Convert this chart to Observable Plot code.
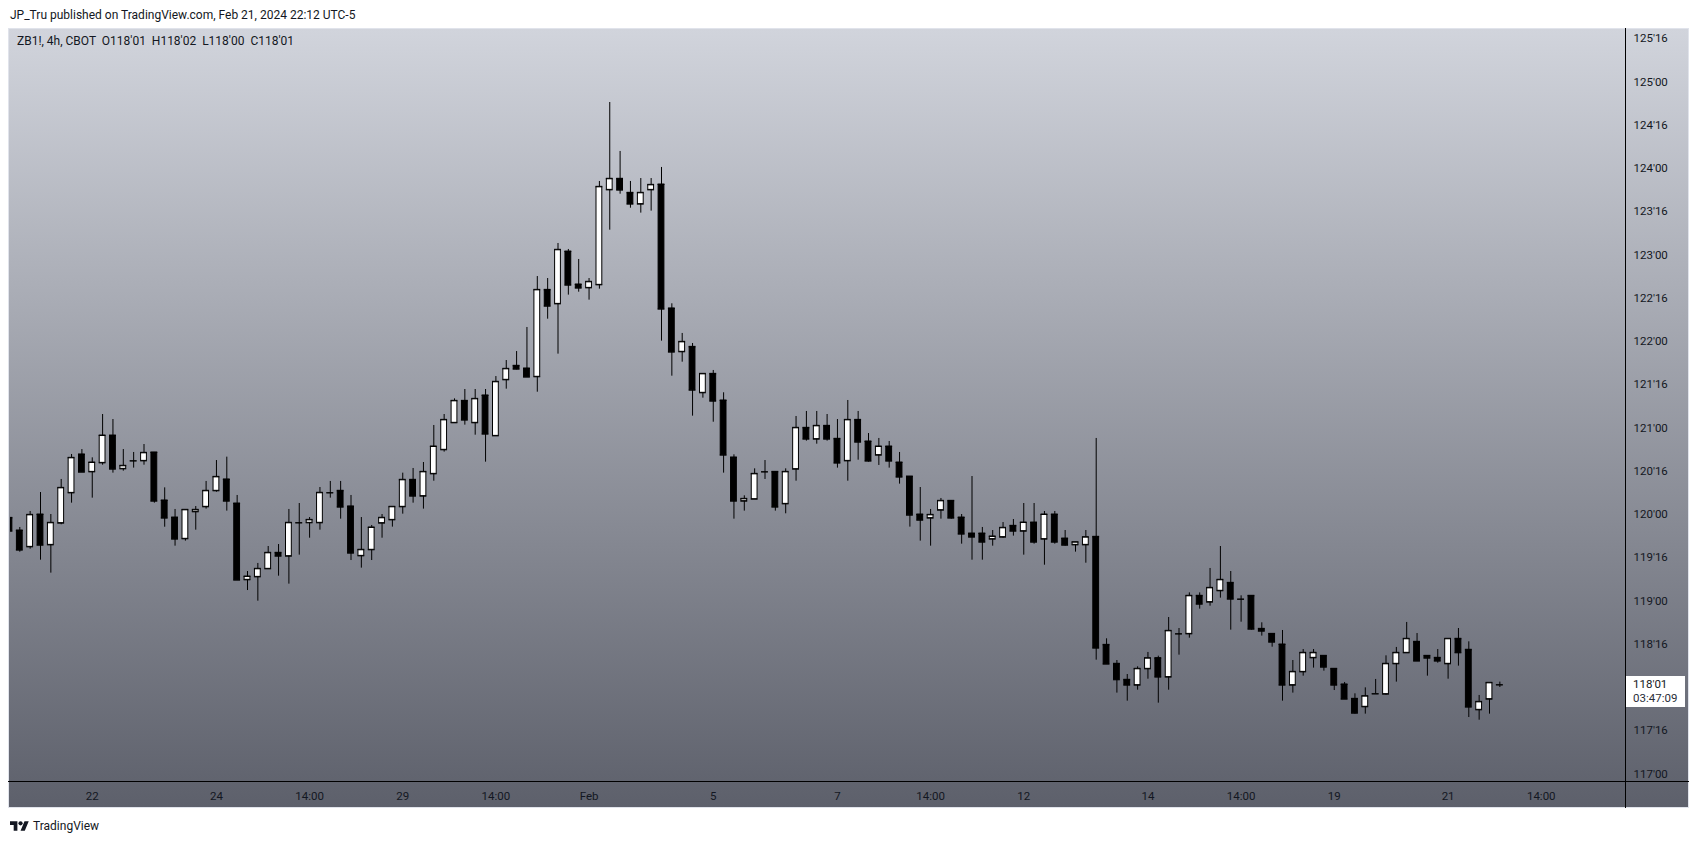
<!DOCTYPE html>
<html>
<head>
<meta charset="utf-8">
<script src="https://cdn.jsdelivr.net/npm/d3@7"></script>
<script src="https://cdn.jsdelivr.net/npm/@observablehq/plot@0.6"></script>
<style>
  html, body { margin: 0; padding: 0; background: #ffffff; }
  body { width: 1699px; height: 844px; position: relative; overflow: hidden; font-family: Roboto, "Liberation Sans", sans-serif; color: #131722; }
  #hdr { position: absolute; left: 10px; top: 8px; font-size: 12px; line-height: 14px; color: #131722; white-space: nowrap; }
  #panel { position: absolute; left: 8px; top: 28px; width: 1679px; height: 778px; background: linear-gradient(to bottom, #d1d4dc, #5d606b); border: 1px solid #e0e3eb; }
  #chart { position: absolute; left: 0; top: 28px; }
  #legend { position: absolute; left: 17px; top: 34px; font-size: 12px; line-height: 14px; color: #131722; white-space: pre; }
  #pricebox { position: absolute; left: 1626px; top: 676px; width: 59px; height: 31px; background: #ffffff; font-size: 11.5px; line-height: 14px; padding: 1px 0 0 7px; box-sizing: border-box; color: #131722; }
  #pricebox .t2 { color: #2a2e39; }
  #footer { position: absolute; left: 10px; top: 819px; height: 14px; display: flex; align-items: center; font-size: 12px; color: #131722; }
  #footer svg { margin-right: 4px; }
</style>
</head>
<body>
<div id="hdr">JP_Tru published on TradingView.com, Feb 21, 2024 22:12 UTC-5</div>
<div id="panel"></div>
<div id="chart"></div>
<div id="legend"></div>
<div id="pricebox"></div>
<div id="footer"><svg width="19" height="14" viewBox="0 0 36 26"><path d="M14 22H7V11H0V4h14v18zM28 22h-8l7.5-18h8L28 22z" fill="#131722"/><circle cx="20" cy="8" r="4" fill="#131722"/></svg><span>TradingView</span></div>
<script>
// ZB1! 4h candles (prices in points; 1/32 = 0.03125)
const open = [
119.961,119.815,119.626,120.000,119.649,119.900,120.250,120.694,120.493,120.597,
120.913,120.528,120.620,120.620,120.717,120.162,119.965,119.719,120.031,120.089,
120.274,120.405,120.127,119.245,119.279,119.372,119.557,119.518,119.904,119.904,
119.904,120.251,120.274,120.093,119.522,119.592,119.900,119.938,120.089,120.401,
120.212,120.470,120.748,121.060,121.314,121.060,121.376,120.909,121.557,121.719,
121.688,121.592,122.597,122.435,123.040,122.659,122.620,122.655,123.753,123.881,
123.719,123.588,123.753,123.815,122.382,121.881,121.938,121.407,121.626,121.318,
120.659,120.154,120.177,120.493,120.493,120.123,120.524,121.002,120.871,121.025,
120.875,120.620,121.094,120.844,120.686,120.786,120.601,120.439,120.000,119.958,
120.050,120.158,119.965,119.780,119.780,119.715,119.738,119.869,119.807,119.907,
119.715,120.000,119.722,119.649,119.649,119.742,118.493,118.274,118.089,118.027,
118.216,118.339,118.120,118.620,118.620,119.060,118.987,119.118,119.210,119.021,
119.060,118.678,118.620,118.497,118.027,118.181,118.343,118.366,118.216,118.035,
117.869,117.777,117.927,117.923,118.274,118.401,118.528,118.366,118.343,118.274,
118.563,118.436,117.742,117.865,118.031
];
const high = [
119.988,119.850,120.035,120.254,120.000,120.405,120.694,120.751,120.655,121.156,
121.098,120.751,120.717,120.809,120.717,120.308,120.058,120.054,120.092,120.382,
120.624,120.663,120.220,119.341,119.434,119.630,119.653,120.058,120.127,119.965,
120.312,120.382,120.382,120.220,119.965,119.873,120.000,120.089,120.478,120.532,
120.601,121.029,121.156,121.337,121.445,121.445,121.445,121.595,121.780,121.884,
122.162,122.751,122.728,123.133,123.064,122.948,122.728,123.850,124.763,124.197,
123.850,123.884,123.884,124.012,122.436,122.093,121.977,121.626,121.665,121.407,
120.690,120.216,120.528,120.624,120.493,120.528,121.133,121.191,121.191,121.156,
121.098,121.318,121.191,120.936,120.879,120.844,120.717,120.439,120.312,120.058,
120.185,120.158,120.000,120.439,119.850,119.815,119.907,119.942,120.127,120.127,
120.035,120.035,119.815,119.680,119.815,120.879,118.563,118.312,118.150,118.239,
118.405,118.362,118.809,118.682,119.094,119.094,119.376,119.630,119.341,119.060,
119.060,118.748,118.620,118.659,118.312,118.439,118.439,118.366,118.216,118.058,
117.927,117.996,118.093,118.366,118.463,118.752,118.624,118.366,118.439,118.563,
118.682,118.528,117.908,118.054,118.0625
];
const low = [
119.796,119.564,119.599,119.472,119.322,119.881,120.131,120.489,120.189,120.570,
120.478,120.501,120.536,120.570,120.131,119.853,119.634,119.692,119.819,120.062,
120.258,120.039,119.241,119.121,118.998,119.372,119.287,119.195,119.530,119.726,
119.819,120.189,119.946,119.468,119.380,119.468,119.726,119.854,120.004,120.131,
120.062,120.385,120.721,121.060,121.033,120.917,120.605,120.909,121.449,121.672,
121.588,121.414,122.258,121.854,122.536,122.570,122.478,122.605,123.287,123.703,
123.541,123.484,123.507,122.004,121.599,121.761,121.137,121.345,121.067,120.478,
119.946,120.039,120.177,120.405,120.039,120.008,120.385,120.848,120.813,120.848,
120.536,120.385,120.628,120.605,120.567,120.536,120.351,119.854,119.692,119.634,
119.946,119.946,119.657,119.472,119.472,119.634,119.726,119.750,119.530,119.657,
119.414,119.657,119.634,119.565,119.437,118.316,118.270,117.935,117.842,117.969,
118.096,117.819,117.969,118.374,118.570,118.906,118.940,119.033,118.663,118.755,
118.663,118.594,118.466,117.842,117.935,118.131,118.224,118.189,117.965,117.865,
117.692,117.692,117.927,117.911,118.062,118.401,118.305,118.131,118.281,118.096,
118.247,117.653,117.622,117.692,118.000
];
const close = [
119.807,119.588,119.996,119.645,119.904,120.308,120.655,120.489,120.601,120.913,
120.524,120.563,120.620,120.713,120.154,119.958,119.715,120.054,120.054,120.274,
120.435,120.154,119.241,119.283,119.372,119.557,119.518,119.904,119.904,119.938,
120.251,120.251,120.085,119.553,119.592,119.850,119.962,120.089,120.401,120.212,
120.493,120.786,121.094,121.314,121.091,121.337,120.929,121.534,121.684,121.680,
121.588,122.597,122.408,123.060,122.651,122.617,122.690,123.788,123.881,123.750,
123.588,123.719,123.811,122.374,121.877,121.996,121.437,121.626,121.310,120.686,
120.154,120.181,120.470,120.493,120.085,120.493,121.002,120.871,121.025,120.871,
120.594,121.094,120.836,120.617,120.786,120.617,120.432,119.992,119.934,119.996,
120.158,119.958,119.773,119.738,119.680,119.746,119.846,119.807,119.907,119.680,
120.000,119.680,119.645,119.680,119.738,118.455,118.270,118.089,118.027,118.216,
118.339,118.120,118.655,118.620,119.060,118.963,119.152,119.245,119.021,119.021,
118.674,118.651,118.524,118.027,118.181,118.401,118.401,118.235,118.027,117.865,
117.703,117.900,117.927,118.274,118.401,118.563,118.305,118.339,118.305,118.563,
118.401,117.773,117.834,118.054,118.031
];

// axis ticks
const xTickIndex = [8, 20, 29, 38, 47, 56, 68, 80, 89, 98, 110, 119, 128, 139, 148];
const xTickLabel = ["22", "24", "14:00", "29", "14:00", "Feb", "5", "7", "14:00", "12", "14", "14:00", "19", "21", "14:00"];
const yTicks = [117, 117.5, 118.5, 119, 119.5, 120, 120.5, 121, 121.5, 122, 122.5, 123, 123.5, 124, 124.5, 125, 125.5];
const countdown = "03:47:09";

const fmt = p => {
  const w = Math.floor(p + 1e-9);
  const t = Math.round((p - w) * 32);
  return `${w}'${String(t).padStart(2, "0")}`;
};

const idx = d3.range(open.length);
const up = idx.filter(i => close[i] >= open[i]);
const down = idx.filter(i => close[i] < open[i]);
const last = open.length - 1;

const X0 = 0.1014, X1 = 156.14, Y0 = 116.9133, Y1 = 125.6185;
const HW = 0.28;

const chart = Plot.plot({
  width: 1699,
  height: 780,
  marginLeft: 10,
  marginRight: 74,
  marginTop: 0,
  marginBottom: 27,
  style: { background: "transparent", fontFamily: "Roboto, 'Liberation Sans', sans-serif", color: "#131722", overflow: "visible" },
  x: { domain: [X0, X1], axis: null },
  y: { domain: [Y0, Y1], axis: null },
  marks: [
    Plot.ruleX(idx, { x: i => i, y1: i => low[i], y2: i => high[i], stroke: "#000000", strokeWidth: 1, clip: true }),
    Plot.rect(up, { x1: i => i - HW, x2: i => i + HW, y1: i => open[i], y2: i => close[i], fill: "#ffffff", stroke: "#000000", strokeWidth: 1, clip: true }),
    Plot.rect(down, { x1: i => i - HW, x2: i => i + HW, y1: i => open[i], y2: i => close[i], fill: "#000000", stroke: "#000000", strokeWidth: 1, clip: true }),
    Plot.ruleY(idx, { y: i => open[i], x1: i => i - HW - 0.05, x2: i => i + HW + 0.05, stroke: "#000000", strokeWidth: 1, clip: true }),
    Plot.ruleY(idx, { y: i => close[i], x1: i => i - HW - 0.05, x2: i => i + HW + 0.05, stroke: "#000000", strokeWidth: 1, clip: true }),
    Plot.axisX({ ticks: xTickIndex, tickFormat: d => xTickLabel[xTickIndex.indexOf(d)], tickSize: 0, tickPadding: 10, fontSize: 11.5, label: null }),
    Plot.axisY({ anchor: "right", ticks: yTicks, tickFormat: fmt, tickSize: 0, tickPadding: 8, fontSize: 11.5, label: null }),
    Plot.ruleX([X1], { stroke: "#000000", strokeWidth: 1, insetBottom: -27 }),
    Plot.ruleY([Y0], { stroke: "#000000", strokeWidth: 1, insetLeft: -2, insetRight: -64 })
  ]
});
document.getElementById("chart").appendChild(chart);

document.getElementById("legend").textContent =
  `ZB1!, 4h, CBOT  O${fmt(open[last])}  H${fmt(high[last])}  L${fmt(low[last])}  C${fmt(close[last])}`;
document.getElementById("pricebox").innerHTML =
  `<div>${fmt(close[last])}</div><div class="t2">${countdown}</div>`;
</script>
</body>
</html>
